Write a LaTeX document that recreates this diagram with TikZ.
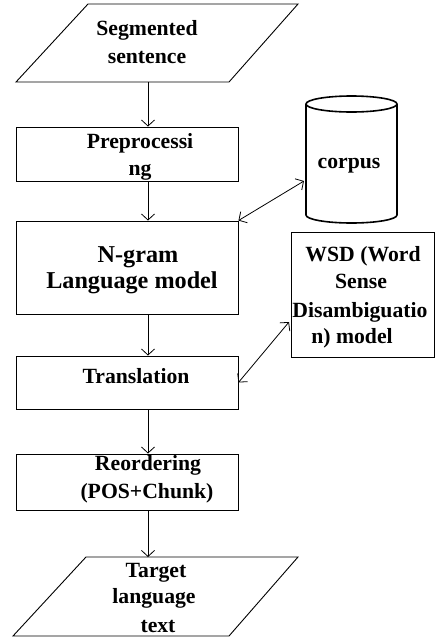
\documentclass[tikz,border=0pt]{standalone}
\usepackage{fontspec}
\setmainfont{Liberation Serif}
\usetikzlibrary{arrows.meta}
\begin{document}
\begin{tikzpicture}[x=1pt,y=-1pt,
  box/.style={draw,line width=0.9pt,inner sep=0pt},
  shapeline/.style={draw,line width=0.9pt},
  lbl/.style={font=\bfseries\fontsize{21.7}{27}\selectfont,inner sep=0pt,anchor=base},
  biglbl/.style={font=\bfseries\fontsize{24.2}{27}\selectfont,inner sep=0pt,anchor=base},
  tip/.style={Straight Barb[length=6pt,width=13pt]},
  flow/.style={draw,line width=0.8pt,-{Straight Barb[length=6pt,width=13pt]}},
  both/.style={draw,line width=0.8pt,{Straight Barb[length=6pt,width=13pt]}-{Straight Barb[length=6pt,width=13pt]}}]
\useasboundingbox (0,0) rectangle (435,638);

% input parallelogram
\draw[shapeline] (88,4) -- (298,4) -- (229,82) -- (16,82) -- cycle;
\coordinate (segb) at (148,82);
\node[lbl] (seg1) at (147,35) {Segmented};
\node[lbl] (seg2) at (147,63) {sentence};

% boxes
\node[box,minimum width=222pt,minimum height=54pt] (pre) at (127,154) {};
\node[lbl] (pre1) at (140,148) {Preprocessi};
\node[lbl] (pre2) at (140,175) {ng};

\node[box,minimum width=222pt,minimum height=93pt] (ngr) at (127,267.5) {};
\node[biglbl] (ngr1) at (138,262) {N-gram};
\node[biglbl] (ngr2) at (132,288) {Language model};

\node[box,minimum width=222pt,minimum height=53pt] (tra) at (127,382.5) {};
\node[lbl] (tra1) at (136,383) {Translation};

\node[box,minimum width=222pt,minimum height=56pt] (reo) at (127,482) {};
\node[lbl] (reo1) at (148,470) {Reordering};
\node[lbl] (reo2) at (147,498) {(POS+Chunk)};

% WSD box
\node[box,minimum width=143pt,minimum height=125pt] (wsd) at (362.5,294.5) {};
\node[lbl] (wsd1) at (363,261) {WSD (Word};
\node[lbl] (wsd2) at (361,288) {Sense};
\node[lbl] (wsd3) at (360,317) {Disambiguatio};
\node[lbl] (wsd4) at (352,343) {n) model};
\coordinate (wsdw) at (289,322);

% corpus cylinder
\draw[line width=1.6pt] (306,104) -- (306,215)
  arc[start angle=180,end angle=0,x radius=45.5,y radius=8] -- (397,104);
\draw[line width=1.6pt] (351.5,104) ellipse[x radius=45.5,y radius=8];
\node[lbl] (cor) at (349,168) {corpus};
\coordinate (corw) at (304,181);

% output parallelogram
\draw[shapeline] (86,557) -- (298,557) -- (229,636) -- (13,636) -- cycle;
\coordinate (tgtt) at (148,557);
\node[lbl] (tgt1) at (156,577) {Target};
\node[lbl] (tgt2) at (154,603) {language};
\node[lbl] (tgt3) at (158,632) {text};

% connectors
\draw[flow] (segb) -- (segb |- pre.north);
\draw[flow] (segb |- pre.south) -- (segb |- ngr.north);
\draw[flow] (segb |- ngr.south) -- (segb |- tra.north);
\draw[flow] (segb |- tra.south) -- (segb |- reo.north);
\draw[flow] (segb |- reo.south) -- (tgtt);
\draw[both] (ngr.north east) -- (corw);
\draw[both] (tra.east) -- (wsdw);
\end{tikzpicture}
\end{document}
